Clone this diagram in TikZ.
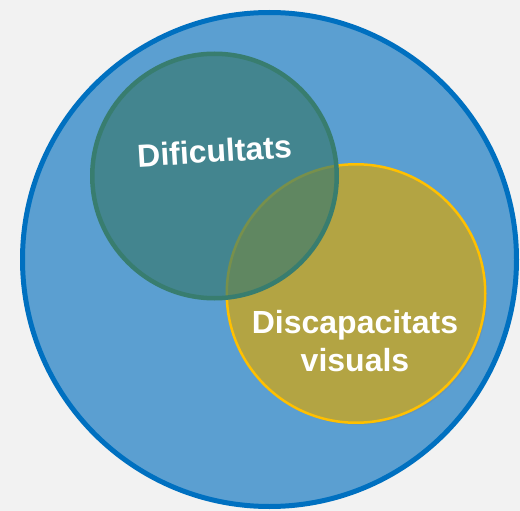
\documentclass[tikz,border=0pt]{standalone}
\usepackage{fontspec}
\setmainfont{Liberation Sans}
\usepackage{tikz}
\usetikzlibrary{positioning,shadows}
\definecolor{bgcol}{RGB}{242,242,242}
\definecolor{ambitfill}{RGB}{91,159,209}
\definecolor{ambitline}{RGB}{0,112,192}
\definecolor{dificfill}{RGB}{57,122,112}
\definecolor{dificline}{RGB}{56,125,111}
\definecolor{visfill}{RGB}{179,164,67}
\definecolor{visline}{RGB}{255,192,0}

\begin{document}
\begin{tikzpicture}[x=1pt,y=-1pt, set/.style={circle,draw,inner sep=0pt}, lbl/.style={text=white,font=\fontsize{32}{38}\selectfont\bfseries,align=center,inner sep=0pt}, ]

	\fill[bgcol] (0,0) rectangle (520,511);
	\useasboundingbox (0,0) rectangle (520,511);
	\node[set, fill=ambitfill, draw=ambitline, line width=5pt, minimum size=494pt] (ambit) at (269.5,259.5) {};
	\node[set, fill=visfill, draw=visline, line width=2.5pt, minimum size=258.5pt, drop shadow={shadow xshift=2pt,shadow yshift=-2pt,opacity=0.25}] (visual) at (356,293.5) {};
	\node[set, fill=dificfill, fill opacity=0.68, draw=dificline, line width=4.5pt, minimum size=244.5pt] (dific) at (214.5,176) {};
	\node[lbl, rotate=3.4, above=25pt of dific.center, anchor=center] (diflbl) {Dificultats};
	\node[lbl, below=48pt of visual.center, anchor=center, xshift=-1pt] (vislbl) {Discapacitats\\visuals};
\end{tikzpicture}
\end{document}
